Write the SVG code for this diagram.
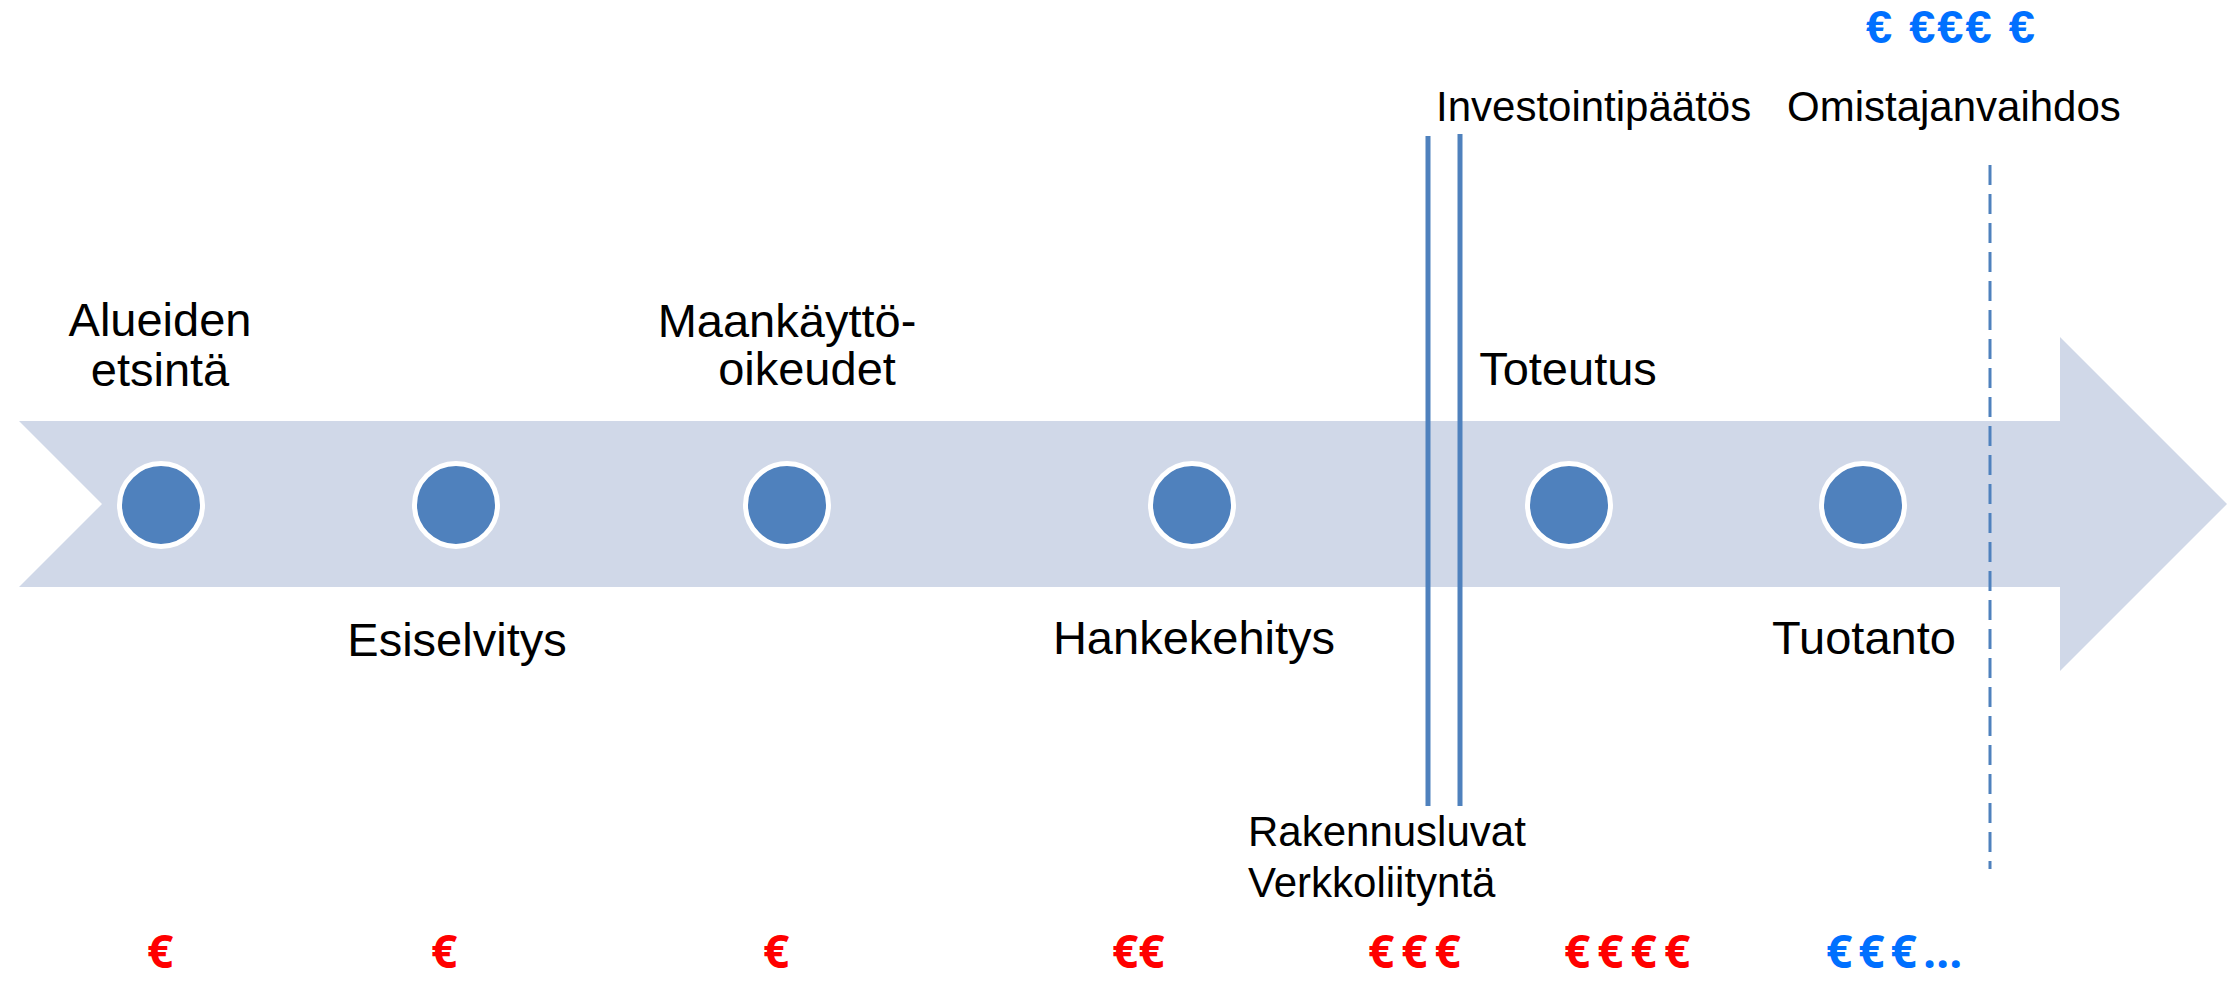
<svg xmlns="http://www.w3.org/2000/svg" width="2228" height="981" viewBox="0 0 2228 981">
<style>
.lbl{font-family:"Liberation Sans",Arial,sans-serif;font-size:47px;fill:#000}
.sm{font-family:"Liberation Sans",Arial,sans-serif;font-size:42px;fill:#000}
.eur{font-family:"Open Sans","Noto Sans",sans-serif;font-weight:bold;font-size:46px}
.eurtop{font-family:"Liberation Sans",Arial,sans-serif;font-weight:bold;font-size:47px}
.red{fill:#FF0000}
.blue{fill:#0070FF}
.dot{fill:#4F81BD;stroke:#FFFFFF;stroke-width:5}
.mark{stroke:#4F81BD;stroke-width:5;fill:none}
.dash{stroke:#4F81BD;stroke-width:3;fill:none;stroke-dasharray:20 9}
</style>
<rect width="2228" height="981" fill="#FFFFFF"/>
<g id="arrow">
<polygon points="19,421 2060,421 2060,337 2227,504 2060,671 2060,587 19,587 102,504" fill="#D0D8E8"/>
</g>
<g id="connectors">
<line class="mark" x1="1428" y1="136" x2="1428" y2="806"/>
<line class="mark" x1="1460" y1="134" x2="1460" y2="806"/>
<line class="dash" x1="1990" y1="165" x2="1990" y2="869"/>
</g>
<g id="node-alueiden">
<circle class="dot" cx="161" cy="505" r="41.5"/>
<text class="lbl" x="160" y="336" text-anchor="middle">Alueiden</text>
<text class="lbl" x="160" y="386" text-anchor="middle">etsintä</text>
<text class="eur red" x="147" y="968">€</text>
</g>
<g id="node-esiselvitys">
<circle class="dot" cx="456" cy="505" r="41.5"/>
<text class="lbl" x="457" y="656" text-anchor="middle">Esiselvitys</text>
<text class="eur red" x="431" y="968">€</text>
</g>
<g id="node-maankaytto">
<circle class="dot" cx="787" cy="505" r="41.5"/>
<text class="lbl" x="787" y="337" text-anchor="middle">Maankäyttö-</text>
<text class="lbl" x="807" y="385" text-anchor="middle">oikeudet</text>
<text class="eur red" x="763" y="968">€</text>
</g>
<g id="node-hankekehitys">
<circle class="dot" cx="1192" cy="505" r="41.5"/>
<text class="lbl" x="1194" y="654" text-anchor="middle">Hankekehitys</text>
<text class="eur red" x="1112" y="968">€€</text>
</g>
<g id="node-luvat">
<text class="sm" x="1248" y="846">Rakennusluvat</text>
<text class="sm" x="1248" y="897">Verkkoliityntä</text>
<text class="eur red" x="1368" y="968" letter-spacing="7">€€€</text>
</g>
<g id="node-investointi">
<text class="sm" x="1436" y="121">Investointipäätös</text>
</g>
<g id="node-toteutus">
<circle class="dot" cx="1569" cy="505" r="41.5"/>
<text class="lbl" x="1568" y="385" text-anchor="middle">Toteutus</text>
<text class="eur red" x="1564" y="968" letter-spacing="7">€€€€</text>
</g>
<g id="node-tuotanto">
<circle class="dot" cx="1863" cy="505" r="41.5"/>
<text class="lbl" x="1864" y="654" text-anchor="middle">Tuotanto</text>
<text class="eur blue" x="1826" y="968" letter-spacing="6">€€€…</text>
</g>
<g id="node-omistaja">
<text class="sm" x="1787" y="121">Omistajanvaihdos</text>
<text class="eurtop blue" x="1866" y="43" letter-spacing="2">€ €€€ €</text>
</g>
</svg>
